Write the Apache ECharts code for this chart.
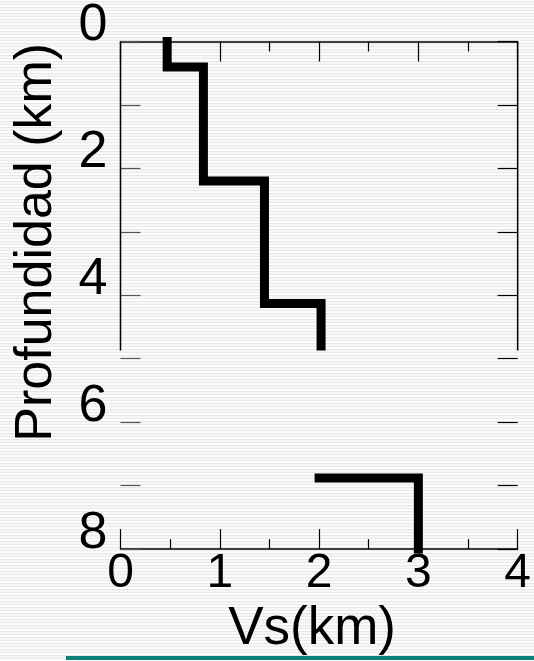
<!DOCTYPE html>
<html>
<head>
<meta charset="utf-8">
<script src="https://cdn.jsdelivr.net/npm/echarts@6/dist/echarts.min.js"></script>
<style>
html,body{margin:0;padding:0;}
body{
  width:534px;height:661px;overflow:hidden;
  background: repeating-linear-gradient(to bottom,
    #ffffff 0px, #ffffff 1px,
    #e6e6e6 1px, #e6e6e6 2px,
    #f6f6f6 2px, #f6f6f6 4px,
    #ececec 4px, #ececec 5px,
    #fafafa 5px, #fafafa 6px);
}
#chart{width:534px;height:661px;}
</style>
</head>
<body>
<div id="chart"></div>
<script>
// ---- data ----
var xTicks = [0, 1, 2, 3, 4];
var yTicks = [0, 2, 4, 6, 8];
var xAxisTitle = 'Vs(km)';
var yAxisTitle = 'Profundidad (km)';
// upper velocity profile (Vs km/s vs depth km)
var seg1Vs    = [0.47, 0.47, 0.835, 0.835, 1.45, 1.45, 2.02, 2.02];
var seg1Depth = [0,    0.40, 0.40,  2.20,  2.20, 4.13, 4.13, 4.80];
// lower profile piece
var seg2Vs    = [2.0,  3.0,  3.0];
var seg2Depth = [6.88, 6.88, 8.0];
// visible extent of the side frame lines (depth)
var frameDepth = [0, 4.87];

function pts(xs, ys){ return xs.map(function(x,i){ return [x, ys[i]]; }); }

var chart = echarts.init(document.getElementById('chart'), null, {renderer:'canvas'});
var FONT = 'Liberation Sans, Arial, sans-serif';
var xMin = xTicks[0], xMax = xTicks[xTicks.length-1];
var yMin = yTicks[0], yMax = yTicks[yTicks.length-1];

var option = {
  backgroundColor: 'transparent',
  animation: false,
  grid: {left: 120.5, right: 13.5, top: 40, bottom: 106, containLabel: false},
  xAxis: [{
    type: 'value', position: 'bottom', min: xMin, max: xMax, interval: 1,
    axisLine: {show: true, onZero: false, lineStyle: {color: '#000', width: 1.5}},
    axisTick: {show: true, inside: true, length: 20, lineStyle: {color: '#000', width: 1.2}},
    minorTick: {show: true, splitNumber: 2, length: 10, lineStyle: {color: '#000', width: 1.2}},
    splitLine: {show: false},
    axisLabel: {fontSize: 48, color: '#000', fontFamily: FONT, margin: 1},
    name: xAxisTitle, nameLocation: 'middle', nameGap: 45,
    nameTextStyle: {fontSize: 53, color: '#000', fontFamily: FONT, padding: [0, 14, 0, 0]}
  },{
    type: 'value', position: 'top', min: xMin, max: xMax, interval: 1,
    axisLine: {show: true, onZero: false, lineStyle: {color: '#000', width: 1.5}},
    axisTick: {show: true, inside: true, length: 20, lineStyle: {color: '#000', width: 1.2}},
    minorTick: {show: true, splitNumber: 2, length: 10, lineStyle: {color: '#000', width: 1.2}},
    splitLine: {show: false},
    axisLabel: {show: false}
  }],
  yAxis: [{
    type: 'value', position: 'left', inverse: true, min: yMin, max: yMax, interval: 1,
    axisLine: {show: false, onZero: false},
    axisTick: {show: true, inside: true, length: 20, lineStyle: {color: '#555', width: 1.2}},
    splitLine: {show: false},
    axisLabel: {
      fontSize: 52, color: '#000', fontFamily: FONT, margin: 13,
      verticalAlign: 'bottom', lineHeight: 31,
      formatter: function(v){ return yTicks.indexOf(v) >= 0 ? String(v) : ''; }
    },
    name: yAxisTitle, nameLocation: 'middle', nameGap: 58, nameRotate: 90,
    nameTextStyle: {fontSize: 52, color: '#000', fontFamily: FONT, padding: [0, 0, 0, 106]}
  },{
    type: 'value', position: 'right', inverse: true, min: yMin, max: yMax, interval: 1,
    axisLine: {show: false, onZero: false},
    axisTick: {show: true, inside: true, length: 20, lineStyle: {color: '#000', width: 1.2}},
    splitLine: {show: false},
    axisLabel: {show: false}
  }],
  series: [{
    type: 'line', xAxisIndex: 0, yAxisIndex: 0, clip: false, silent: true,
    data: pts([xMin, xMin], frameDepth), symbol: 'none',
    lineStyle: {color: '#000', width: 1.5}
  },{
    type: 'line', xAxisIndex: 0, yAxisIndex: 0, clip: false, silent: true,
    data: pts([xMax, xMax], frameDepth), symbol: 'none',
    lineStyle: {color: '#000', width: 1.5}
  },{
    type: 'line', xAxisIndex: 0, yAxisIndex: 0, clip: false,
    data: pts(seg1Vs, seg1Depth), symbol: 'none',
    lineStyle: {color: '#000', width: 9, cap: 'square', join: 'miter'}
  },{
    type: 'line', xAxisIndex: 0, yAxisIndex: 0, clip: false,
    data: pts(seg2Vs, seg2Depth), symbol: 'none',
    lineStyle: {color: '#000', width: 9, cap: 'square', join: 'miter'}
  }],
  graphic: [{
    type: 'rect', left: 66, top: 656, z: -1,
    shape: {width: 468, height: 4},
    style: {fill: '#0b7f7a'}
  }]
};
chart.setOption(option);
</script>
</body>
</html>
